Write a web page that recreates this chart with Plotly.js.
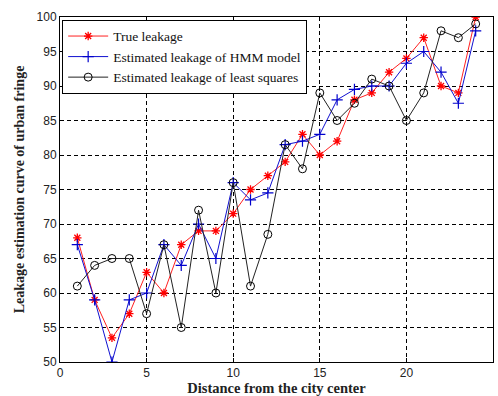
<!DOCTYPE html>
<html>
<head>
<meta charset="utf-8">
<script src="https://cdn.plot.ly/plotly-3.0.1.min.js"></script>
<style>html,body{margin:0;padding:0;background:#fff;}#chart{width:498px;height:396px;}</style>
</head>
<body>
<div id="chart"></div>
<script>
const distance = [1,2,3,4,5,6,7,8,9,10,11,12,13,14,15,16,17,18,19,20,21,22,23,24];
const trueLeakage = [68,59,53.5,57,63,60,67,69,69,71.5,75,77,79,83,80,82,88,89,92,94,97,90,89,100];
const hmmLeakage = [67,59,50,59,60,67,64,70,65,76,73.5,74.5,81.5,82,83,88,89.5,90,90,93.3,95,92,87.5,98];
const lsLeakage = [61,64,65,65,57,67,55,72,60,76,61,68.5,81.5,78,89,85,87.5,91,90,85,89,98,97,99];
const seriesNames = ["True leakage", "Estimated leakage of HMM model", "Estimated leakage of least squares"];
const xTicks = [0,5,10,15,20,25];
const yTicks = [50,55,60,65,70,75,80,85,90,95,100];

const traces = [
  {x: distance, y: trueLeakage, name: seriesNames[0], mode: "lines+markers",
   line: {color: "#ff2020", width: 1},
   marker: {symbol: "asterisk-open", size: 7, color: "#ff0000", line: {color: "#ff0000", width: 1.3}}},
  {x: distance, y: hmmLeakage, name: seriesNames[1], mode: "lines+markers",
   line: {color: "#1010d0", width: 1},
   marker: {symbol: "cross-thin-open", size: 8, color: "#0000cc", line: {color: "#0000cc", width: 1.2}}},
  {x: distance, y: lsLeakage, name: seriesNames[2], mode: "lines+markers",
   line: {color: "#222", width: 1},
   marker: {symbol: "circle-open", size: 8, color: "#000", line: {color: "#000", width: 1}}}
];

const axisCommon = {
  showline: true, linecolor: "#000", linewidth: 1, mirror: "ticks",
  ticks: "inside", ticklen: 4, tickcolor: "#000",
  showgrid: true, gridcolor: "#000", gridwidth: 1, griddash: "4px,3px",
  zeroline: false,
  tickfont: {family: "Liberation Sans, Arial, sans-serif", size: 12, color: "#222"}
};

const layout = {
  width: 498, height: 396,
  margin: {l: 60, r: 5, t: 17, b: 34},
  paper_bgcolor: "#fff", plot_bgcolor: "#fff",
  showlegend: true,
  legend: {x: 0.005, y: 0.992, xanchor: "left", yanchor: "top",
    bgcolor: "#fff", bordercolor: "#000", borderwidth: 1,
    font: {family: "Liberation Serif, Times New Roman, serif", size: 13.5, color: "#111"},
    tracegroupgap: 0, itemwidth: 40},
  xaxis: Object.assign({}, axisCommon, {
    range: [0, 25], tickvals: xTicks, ticktext: xTicks.map(String),
    title: {text: "<b>Distance from the city center</b>", standoff: 2,
      font: {family: "Liberation Serif, Times New Roman, serif", size: 14.5, color: "#222"}}
  }),
  yaxis: Object.assign({}, axisCommon, {
    range: [50, 100], tickvals: yTicks, ticktext: yTicks.map(String),
    title: {text: "<b>Leakage estimation curve of urban fringe</b>", standoff: 8,
      font: {family: "Liberation Serif, Times New Roman, serif", size: 14, color: "#222"}}
  })
};

Plotly.newPlot("chart", traces, layout, {displayModeBar: false, staticPlot: true});
</script>
</body>
</html>
